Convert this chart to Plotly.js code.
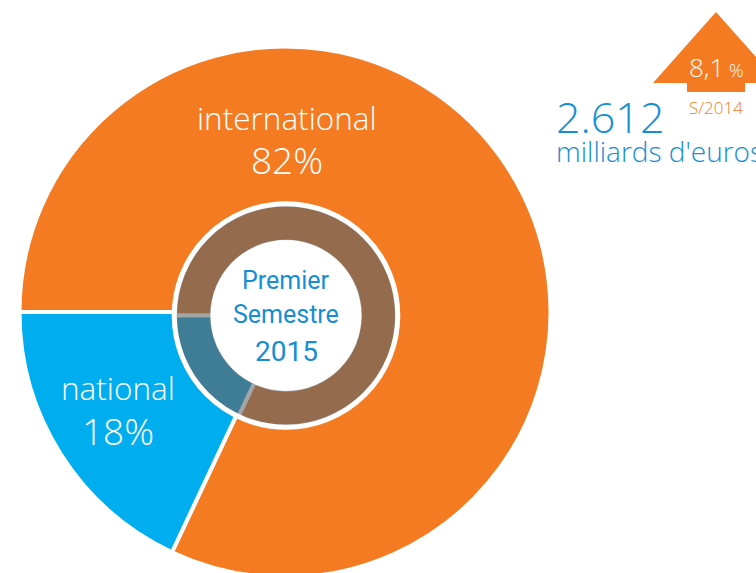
<!DOCTYPE html>
<html>
<head>
<meta charset="utf-8">
<script src="https://cdn.plot.ly/plotly-3.0.1.min.js"></script>
<style>
html,body{margin:0;padding:0;overflow:hidden;background:#fff;}
#chart{width:756px;height:600px;}
</style>
</head>
<body>
<div id="chart"></div>
<script>
// ---- data ----
const categories = ['international', 'national'];
const shares = [82, 18];
const periodLines = ['Premier', 'Semestre', '2015'];
const totalValue = '2.612';
const totalUnit = "milliards d'euros";
const growthValue = '8,1';
const growthUnit = '%';
const growthRef = 'S/2014';

// ---- styles ----
const outerColors = ['#f47b21', '#00aeef'];
const innerColors = ['#946b4c', '#3e7d95'];
const blueText = '#168ed3';
const orange = '#f47b21';
const W = 756, H = 600;
const px = x => x / W;
const py = y => 1 - y / H;

// outer pie geometry (pixels)
const oc = {x: 285, y: 312, r: 265.5};
// inner ring geometry
const ic = {x: 286, y: 315.5, r: 111, hole: 74};

const outer = {
  type: 'pie', labels: categories, values: shares, sort: false,
  direction: 'clockwise', rotation: -90,
  marker: {colors: outerColors, line: {color: '#ffffff', width: 4}},
  textinfo: 'none', hoverinfo: 'label+percent', showlegend: false,
  domain: {x: [px(oc.x - oc.r), px(oc.x + oc.r)], y: [py(oc.y + oc.r), py(oc.y - oc.r)]}
};
const inner = {
  type: 'pie', labels: categories, values: shares, sort: false,
  direction: 'clockwise', rotation: -90, hole: ic.hole / ic.r,
  marker: {colors: innerColors, line: {color: '#a2a4a6', width: 4}},
  textinfo: 'none', hoverinfo: 'label+percent', showlegend: false,
  domain: {x: [px(ic.x - ic.r), px(ic.x + ic.r)], y: [py(ic.y + ic.r), py(ic.y - ic.r)]}
};

function circle(cx, cy, r, fill, lineW) {
  return {type: 'circle', xref: 'paper', yref: 'paper', layer: 'above',
    x0: px(cx - r), x1: px(cx + r), y0: py(cy + r), y1: py(cy - r),
    fillcolor: fill, line: {color: '#ffffff', width: lineW}};
}
function pathPx(pts) {
  return 'M ' + pts.map(p => px(p[0]) + ',' + py(p[1])).join(' L ') + ' Z';
}

const shapes = [
  circle(ic.x, ic.y, 111.8, 'rgba(0,0,0,0)', 5),
  circle(ic.x, ic.y, 75.5, '#ffffff', 0),
  {type: 'path', xref: 'paper', yref: 'paper', layer: 'above',
   path: pathPx([[653,83],[716,12],[779,83],[745,83],[745,92],[687,92],[687,83]]),
   fillcolor: orange, line: {width: 0}}
];

const labelFam = '"Open Sans", Lato, sans-serif';
const centerFam = 'Roboto, "Open Sans", sans-serif';
function ann(text, x, y, size, color, opts, fam, weight) {
  return Object.assign({xref: 'paper', yref: 'paper', x: px(x), y: py(y), text: text,
    showarrow: false, xanchor: 'center', yanchor: 'middle', borderpad: 0,
    font: {family: fam || labelFam, size: size, color: color, weight: weight || 300}}, opts || {});
}

const annotations = [
  ann(categories[0], 287, 117, 31.5, '#ffffff'),
  ann(shares[0] + '%', 287, 160, 37, '#ffffff'),
  ann(categories[1], 118, 387, 31.5, '#ffffff'),
  ann(shares[1] + '%', 118, 430, 37, '#ffffff'),
  ann(periodLines[0], 286, 281, 25, blueText, null, centerFam, 400),
  ann(periodLines[1], 286, 314, 25, blueText, null, centerFam, 400),
  ann(periodLines[2], 286, 351, 28, blueText, null, centerFam, 400),
  ann('<span style="font-size:43px">' + totalValue + '</span><br>' +
      '<span style="font-size:28px">' + totalUnit + '</span>',
      555, 129, 22, blueText, {xanchor: 'left', align: 'left'}),
  ann(growthValue + '<span style="font-size:18px"> ' + growthUnit + '</span>', 716, 67, 26, '#ffffff'),
  ann(growthRef, 716, 107, 17, orange)
];

const layout = {
  width: W, height: H,
  margin: {l: 0, r: 0, t: 0, b: 0},
  paper_bgcolor: '#ffffff', plot_bgcolor: '#ffffff',
  showlegend: false,
  shapes: shapes, annotations: annotations
};

Plotly.newPlot('chart', [outer, inner], layout, {displayModeBar: false, staticPlot: true});
</script>
</body>
</html>
